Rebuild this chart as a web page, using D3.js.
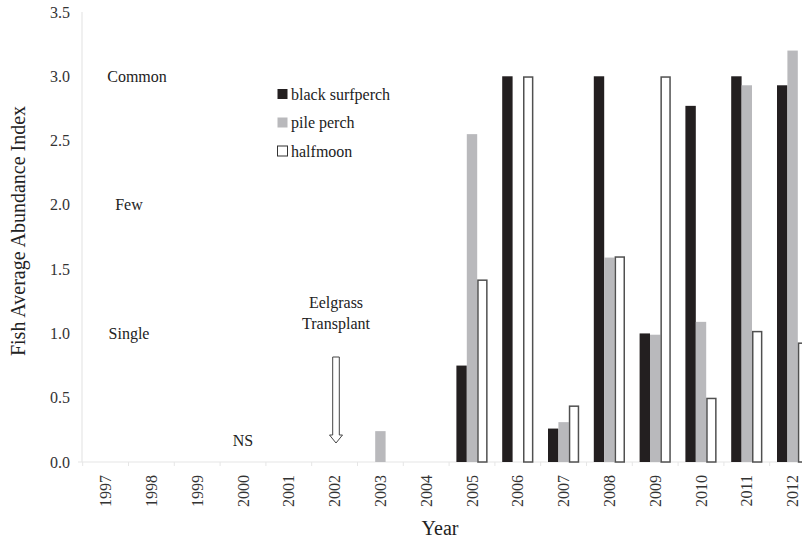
<!DOCTYPE html>
<html><head><meta charset="utf-8">
<script src="https://cdn.jsdelivr.net/npm/d3@7"></script>
<style>body{margin:0;background:#fff}svg{display:block}text{font-family:"Liberation Serif","Times New Roman",serif}</style>
</head><body>
<svg id="c" width="802" height="542"></svg>
<script>
const years = ["1997","1998","1999","2000","2001","2002","2003","2004","2005","2006","2007","2008","2009","2010","2011","2012"];
const seriesNames = ["black surfperch","pile perch","halfmoon"];
const blackSurfperch = [0,0,0,0,0,0,0,0,0.75,3.0,0.26,3.0,1.0,2.77,3.0,2.93];
const pilePerch      = [0,0,0,0,0,0,0.24,0,2.55,0,0.31,1.59,0.99,1.09,2.93,3.20];
const halfmoon       = [0,0,0,0,0,0,0,0,1.42,3.0,0.44,1.60,3.0,0.50,1.02,0.93];
const yTicks = [0,0.5,1.0,1.5,2.0,2.5,3.0,3.5];
const levelLabels = [{t:"Common",v:3.0,x:137},{t:"Few",v:2.0,x:129},{t:"Single",v:1.0,x:129}];

const svg = d3.select("#c");
const x = d3.scaleBand().domain(years).range([82.7, 815.5]).padding(0);
const y = d3.scaleLinear().domain([0,3.5]).range([462, 12]);
const sub = d3.scaleBand().domain(seriesNames).range([-15.6, 15.6]);
const fills = {"black surfperch":"#231f20","pile perch":"#b9b9bc","halfmoon":"#ffffff"};
const strokes = {"black surfperch":"none","pile perch":"none","halfmoon":"#505050"};

// axes (faint)
const axisCol = "#e6e6e6";
svg.append("line").attr("x1",82).attr("x2",82).attr("y1",y(3.5)).attr("y2",y(0)).attr("stroke",axisCol).attr("stroke-width",1.2);
svg.append("line").attr("x1",78).attr("x2",802).attr("y1",y(0)).attr("y2",y(0)).attr("stroke",axisCol).attr("stroke-width",1.2);
years.forEach(yr=>{
  svg.append("line").attr("x1",x(yr)).attr("x2",x(yr)).attr("y1",y(0)).attr("y2",y(0)+4).attr("stroke",axisCol);
});

// y tick labels
svg.append("g").selectAll("text").data(yTicks).join("text")
  .attr("x",70).attr("y",d=>y(d)).attr("dy","0.35em").attr("text-anchor","end")
  .attr("font-size",16).attr("fill","#333").text(d=>d.toFixed(1));

// x tick labels
svg.append("g").selectAll("text").data(years).join("text")
  .attr("transform",d=>`translate(${x(d)+x.bandwidth()/2},475) rotate(-90)`)
  .attr("text-anchor","end").attr("dy","0.35em")
  .attr("font-size",16).attr("fill","#333").text(d=>d);

// bars
const data = [blackSurfperch,pilePerch,halfmoon];
seriesNames.forEach((s,i)=>{
  const vals = data[i];
  svg.append("g").selectAll("rect").data(years.map((yr,j)=>({yr,v:vals[j]})).filter(d=>d.v>0)).join("rect")
    .attr("x",d=>x(d.yr)+x.bandwidth()/2+sub(s)+(s==="halfmoon"?0.75:0))
    .attr("width",sub.bandwidth()-(s==="halfmoon"?1.5:0))
    .attr("y",d=>y(d.v)+(s==="halfmoon"?0.75:0))
    .attr("height",d=>y(0)-y(d.v)-(s==="halfmoon"?0.75:0))
    .attr("fill",fills[s]).attr("stroke",strokes[s]).attr("stroke-width",1.5);
});

// level labels
svg.append("g").selectAll("text").data(levelLabels).join("text")
  .attr("x",d=>d.x).attr("y",d=>y(d.v)).attr("dy","0.35em").attr("text-anchor","middle")
  .attr("font-size",16).attr("fill","#222").text(d=>d.t);

// legend
const leg = svg.append("g");
seriesNames.forEach((s,i)=>{
  const yy = 94 + i*28.5;
  leg.append("rect").attr("x",277.5).attr("y",yy-5).attr("width",10).attr("height",10)
    .attr("fill",fills[s]).attr("stroke",s==="halfmoon"?"#333":"none").attr("stroke-width",1);
  leg.append("text").attr("x",291).attr("y",yy).attr("dy","0.35em").attr("font-size",16).attr("fill","#222").text(s);
});

// annotations
svg.append("text").attr("x",336).attr("y",302).attr("dy","0.35em").attr("text-anchor","middle").attr("font-size",16).attr("fill","#222").text("Eelgrass");
svg.append("text").attr("x",336).attr("y",323).attr("dy","0.35em").attr("text-anchor","middle").attr("font-size",16).attr("fill","#222").text("Transplant");
svg.append("text").attr("x",243).attr("y",440).attr("dy","0.35em").attr("text-anchor","middle").attr("font-size",16).attr("fill","#222").text("NS");
const ax = 336;
svg.append("path").attr("d",`M${ax-3.3},357 L${ax+3.3},357 L${ax+3.3},435 L${ax+6.5},435 L${ax},443 L${ax-6.5},435 L${ax-3.3},435 Z`)
  .attr("fill","#fff").attr("stroke","#444").attr("stroke-width",1);

// axis titles
svg.append("text").attr("x",440).attr("y",528).attr("dy","0.35em").attr("text-anchor","middle").attr("font-size",20).attr("fill","#222").text("Year");
svg.append("text").attr("transform","translate(18,231) rotate(-90)").attr("dy","0.35em").attr("text-anchor","middle").attr("font-size",20).attr("fill","#222").text("Fish Average Abundance Index");
</script>
</body></html>
